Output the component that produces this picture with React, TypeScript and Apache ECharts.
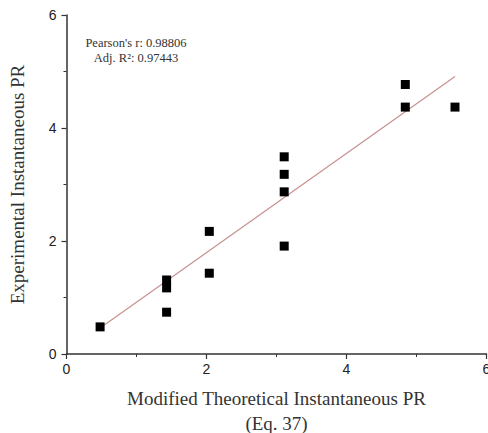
import React, { useEffect, useRef } from "react";
import * as echarts from "echarts";

const pointsX = [0.48, 1.43, 1.43, 1.43, 2.04, 2.04, 3.11, 3.11, 3.11, 3.11, 4.84, 4.84, 5.55];
const pointsY = [0.48, 1.31, 1.17, 0.74, 2.17, 1.43, 1.91, 3.49, 3.18, 2.87, 4.77, 4.37, 4.37];
const fitX = [0.48, 5.55];
const fitY = [0.46, 4.91];
const statsLines = ["Pearson's r: 0.98806", "Adj. R²: 0.97443"];
const xTitle = "Modified Theoretical Instantaneous PR\n(Eq. 37)";
const yTitle = "Experimental Instantaneous PR";

export default function App() {
  const ref = useRef<HTMLDivElement>(null);
  useEffect(() => {
    if (!ref.current) return;
    const chart = echarts.init(ref.current, undefined, { renderer: "svg" });
    const axisCommon = {
      min: 0,
      max: 6,
      interval: 2,
      axisLine: { show: true, lineStyle: { color: "#333", width: 1.5 } },
      axisTick: { show: true, inside: false, length: 5, lineStyle: { color: "#333", width: 1.2 } },
      minorTick: { show: true, splitNumber: 2, length: 3, lineStyle: { color: "#333", width: 1 } },
      splitLine: { show: false },
      axisLabel: { color: "#222", fontFamily: "Liberation Sans", fontSize: 14 },
      nameLocation: "middle" as const,
      nameTextStyle: { fontFamily: "Liberation Serif", fontSize: 19, color: "#333" },
    };
    chart.setOption({
      animation: false,
      backgroundColor: "#fff",
      grid: {
        left: 66.5,
        right: 1.5,
        top: 15,
        bottom: 79,
        containLabel: false,
        outerBoundsMode: "none",
      },
      xAxis: {
        type: "value",
        ...axisCommon,
        axisLabel: { ...axisCommon.axisLabel, margin: 8 },
        name: xTitle,
        nameGap: 32,
        nameTextStyle: { ...axisCommon.nameTextStyle, lineHeight: 25, verticalAlign: "top" },
      },
      yAxis: {
        type: "value",
        ...axisCommon,
        axisLabel: { ...axisCommon.axisLabel, margin: 10 },
        name: yTitle,
        nameGap: 40,
      },
      graphic: statsLines.map((t, i) => ({
        type: "text",
        x: 136,
        y: 43 + i * 14.5,
        style: {
          text: t,
          fontFamily: "Liberation Serif",
          fontSize: 12.5,
          fill: "#333",
          textAlign: "center",
          textVerticalAlign: "middle",
        },
      })),
      series: [
        {
          type: "line",
          data: fitX.map((x, i) => [x, fitY[i]]),
          symbol: "none",
          lineStyle: { color: "#c89090", width: 1.2 },
          z: 1,
        },
        {
          type: "scatter",
          data: pointsX.map((x, i) => [x, pointsY[i]]),
          symbol: "rect",
          symbolSize: 9,
          itemStyle: { color: "#000", opacity: 1 },
          z: 2,
        },
      ],
    });
    return () => chart.dispose();
  }, []);
  return (
    <div
      ref={ref}
      style={{ position: "fixed", left: 0, top: 0, width: 488, height: 433 }}
    />
  );
}
